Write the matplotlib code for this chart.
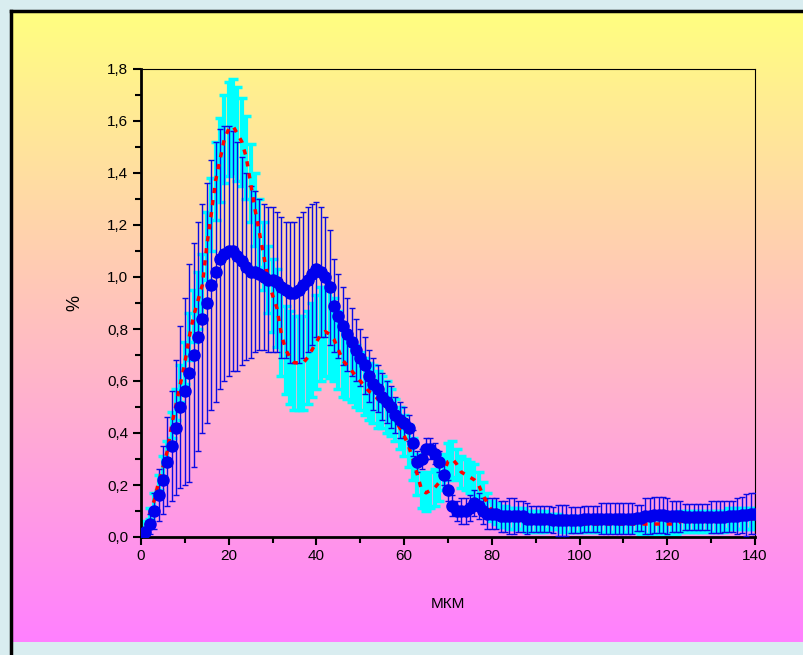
import numpy as np
import matplotlib
matplotlib.use('Agg')
import matplotlib.pyplot as plt
from matplotlib.ticker import MultipleLocator, FuncFormatter

plt.rcParams['font.family'] = ['Liberation Sans', 'DejaVu Sans']

# particle size, mkm
x = np.arange(0, 141)

# blue series: mean and error
blue = [0.00, 0.02, 0.05, 0.10, 0.16, 0.22, 0.29, 0.35, 0.42, 0.50,
        0.56, 0.63, 0.70, 0.77, 0.84, 0.90, 0.97, 1.02, 1.07, 1.09,
        1.10, 1.10, 1.08, 1.06, 1.04, 1.02, 1.02, 1.01, 1.00, 0.99,
        0.99, 0.98, 0.96, 0.95, 0.94, 0.94, 0.95, 0.97, 0.99, 1.01,
        1.03, 1.02, 1.00, 0.96, 0.89, 0.85, 0.81, 0.78, 0.75, 0.72,
        0.69, 0.66, 0.62, 0.59, 0.57, 0.54, 0.52, 0.50, 0.47, 0.45,
        0.44, 0.42, 0.36, 0.29, 0.30, 0.34, 0.34, 0.32, 0.29, 0.24,
        0.18, 0.12, 0.10, 0.10, 0.10, 0.11, 0.13, 0.12, 0.10, 0.09,
        0.09, 0.09, 0.08, 0.08, 0.08, 0.08, 0.08, 0.08, 0.07, 0.07,
        0.07, 0.07, 0.07, 0.07, 0.065, 0.065, 0.065, 0.065, 0.065, 0.065,
        0.065, 0.07, 0.07, 0.07, 0.07, 0.07, 0.07, 0.07, 0.07, 0.07,
        0.07, 0.07, 0.07, 0.075, 0.075, 0.08, 0.08, 0.085, 0.085, 0.085,
        0.08, 0.08, 0.08, 0.08, 0.077, 0.077, 0.077, 0.077, 0.077, 0.077,
        0.077, 0.077, 0.077, 0.078, 0.08, 0.08, 0.08, 0.085, 0.085, 0.09, 0.09]
blue_err = [0.00, 0.02, 0.04, 0.07, 0.10, 0.13, 0.17, 0.21, 0.26, 0.31,
            0.36, 0.42, 0.43, 0.44, 0.44, 0.46, 0.48, 0.50, 0.50, 0.49,
            0.48, 0.46, 0.44, 0.40, 0.36, 0.33, 0.31, 0.29, 0.28, 0.28,
            0.28, 0.27, 0.27, 0.26, 0.27, 0.27, 0.28, 0.28, 0.28, 0.27,
            0.26, 0.25, 0.23, 0.22, 0.18, 0.16, 0.15, 0.14, 0.13, 0.12,
            0.11, 0.11, 0.10, 0.10, 0.09, 0.09, 0.08, 0.08, 0.07, 0.07,
            0.06, 0.05, 0.05, 0.04, 0.04, 0.04, 0.04, 0.04, 0.04, 0.04,
            0.04, 0.04, 0.04, 0.05, 0.05, 0.05, 0.05, 0.05, 0.05, 0.06,
            0.06, 0.06, 0.06, 0.06, 0.07, 0.07, 0.06, 0.06, 0.06, 0.05,
            0.05, 0.05, 0.05, 0.05, 0.05, 0.06, 0.06, 0.06, 0.05, 0.05,
            0.05, 0.05, 0.05, 0.05, 0.05, 0.06, 0.06, 0.06, 0.06, 0.06,
            0.06, 0.06, 0.06, 0.05, 0.05, 0.07, 0.07, 0.07, 0.07, 0.07,
            0.07, 0.06, 0.06, 0.06, 0.05, 0.05, 0.05, 0.05, 0.05, 0.05,
            0.06, 0.06, 0.06, 0.06, 0.06, 0.06, 0.07, 0.07, 0.08, 0.08, 0.08]

# red series with cyan error bars
red = [0.00, 0.04, 0.09, 0.14, 0.21, 0.27, 0.33, 0.43, 0.51, 0.59,
       0.67, 0.77, 0.85, 0.91, 0.97, 1.12, 1.24, 1.37, 1.45, 1.53,
       1.57, 1.58, 1.55, 1.52, 1.46, 1.36, 1.26, 1.17, 1.08, 0.99,
       0.93, 0.88, 0.78, 0.72, 0.69, 0.67, 0.67, 0.67, 0.69, 0.72,
       0.75, 0.78, 0.79, 0.78, 0.76, 0.72, 0.68, 0.66, 0.64, 0.62,
       0.60, 0.58, 0.56, 0.55, 0.53, 0.52, 0.50, 0.48, 0.45, 0.42,
       0.39, 0.35, 0.30, 0.24, 0.18, 0.17, 0.18, 0.19, 0.21, 0.25,
       0.29, 0.30, 0.28, 0.25, 0.24, 0.23, 0.22, 0.20, 0.16, 0.13,
       0.10, 0.09, 0.08, 0.08, 0.07, 0.07, 0.07, 0.07, 0.06, 0.06,
       0.06, 0.06, 0.06, 0.06, 0.06, 0.06, 0.05, 0.05, 0.05, 0.05,
       0.05, 0.05, 0.05, 0.05, 0.05, 0.05, 0.05, 0.05, 0.05, 0.05,
       0.05, 0.05, 0.05, 0.05, 0.05, 0.05, 0.05, 0.05, 0.05, 0.05,
       0.05, 0.05, 0.05, 0.06, 0.06, 0.06, 0.06, 0.06, 0.06, 0.06,
       0.06, 0.06, 0.06, 0.06, 0.07, 0.07, 0.07, 0.07, 0.07, 0.07, 0.07]
cyan_err = [0.01, 0.02, 0.02, 0.03, 0.03, 0.04, 0.04, 0.05, 0.06, 0.07,
            0.08, 0.09, 0.10, 0.11, 0.12, 0.13, 0.14, 0.15, 0.16, 0.17,
            0.18, 0.18, 0.18, 0.17, 0.16, 0.15, 0.14, 0.13, 0.13, 0.13,
            0.14, 0.15, 0.16, 0.17, 0.18, 0.18, 0.18, 0.18, 0.18, 0.18,
            0.18, 0.18, 0.17, 0.17, 0.16, 0.15, 0.14, 0.13, 0.12, 0.12,
            0.11, 0.11, 0.11, 0.11, 0.11, 0.10, 0.10, 0.09, 0.08, 0.08,
            0.08, 0.08, 0.08, 0.08, 0.07, 0.07, 0.07, 0.07, 0.07, 0.07,
            0.07, 0.07, 0.06, 0.06, 0.06, 0.06, 0.06, 0.05, 0.05, 0.04,
            0.04, 0.04, 0.04, 0.04, 0.04, 0.04, 0.04, 0.04, 0.04, 0.04,
            0.04, 0.04, 0.04, 0.03, 0.03, 0.03, 0.03, 0.03, 0.03, 0.03,
            0.03, 0.03, 0.03, 0.03, 0.03, 0.03, 0.03, 0.03, 0.03, 0.03,
            0.03, 0.03, 0.03, 0.03, 0.04, 0.04, 0.04, 0.04, 0.04, 0.04,
            0.04, 0.04, 0.04, 0.04, 0.04, 0.04, 0.04, 0.04, 0.04, 0.04,
            0.04, 0.04, 0.04, 0.04, 0.04, 0.04, 0.04, 0.04, 0.04, 0.04, 0.04]

W, H = 804, 655
fig = plt.figure(figsize=(W / 100, H / 100), dpi=100)
fig.patch.set_facecolor('#d9edf0')

# background panel with yellow -> magenta gradient
bg = fig.add_axes([0, 0, 1, 1], zorder=0)
bg.set_xlim(0, W)
bg.set_ylim(H, 0)
bg.axis('off')
grad = np.linspace(0, 1, 256).reshape(-1, 1)
cmap = matplotlib.colors.LinearSegmentedColormap.from_list('ym', ['#ffff80', '#ff80ff'])
bg.imshow(grad, cmap=cmap, aspect='auto', extent=[11, W, 642, 11], interpolation='bilinear')
bg.plot([11, 11], [11, H], color='black', lw=2.5, solid_capstyle='projecting')
bg.plot([11, W], [11, 11], color='black', lw=2.5, solid_capstyle='projecting')

ax = fig.add_axes([141 / W, 1 - 537 / H, 614 / W, 468 / H], zorder=1)
ax.set_facecolor('none')

ax.errorbar(x, red, yerr=cyan_err, fmt='none', ecolor='#00ffff', elinewidth=3,
            capsize=3.5, capthick=2.5, zorder=2)
ax.errorbar(x, blue, yerr=blue_err, fmt='none', ecolor='#0a0ae6', elinewidth=1,
            capsize=2.5, capthick=1, zorder=3)
ax.plot(x, red, color='red', lw=2.5, ls=(0, (1.5, 2)), zorder=4)
ax.plot(x, blue, 'o', color='#0000ee', ms=8, mec='#0000ee', zorder=5)

ax.set_xlim(0, 140)
ax.set_ylim(0, 1.8)
ax.xaxis.set_major_locator(MultipleLocator(20))
ax.xaxis.set_minor_locator(MultipleLocator(10))
ax.yaxis.set_major_locator(MultipleLocator(0.2))
ax.yaxis.set_minor_locator(MultipleLocator(0.1))
ax.yaxis.set_major_formatter(FuncFormatter(lambda v, p: ('%.1f' % v).replace('.', ',')))
ax.tick_params(which='major', direction='out', length=6, width=1.5, labelsize=11, pad=3)
ax.tick_params(which='minor', direction='out', length=4, width=1.5)
ax.tick_params(top=False, right=False)
ax.spines['left'].set_linewidth(2)
ax.spines['bottom'].set_linewidth(2)
ax.spines['top'].set_linewidth(0.8)
ax.spines['right'].set_linewidth(0.8)

ax.set_xlabel('МКМ', fontsize=11, labelpad=24)
ax.set_ylabel('%', fontsize=13, labelpad=17)

fig.savefig('out.png', dpi=100)
